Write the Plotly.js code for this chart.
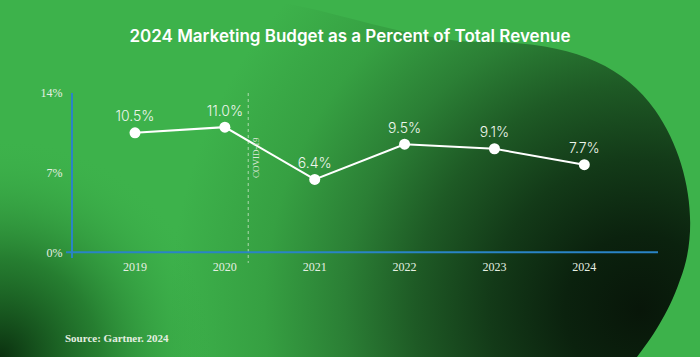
<!DOCTYPE html>
<html><head><meta charset="utf-8">
<script src="https://cdn.plot.ly/plotly-3.0.1.min.js"></script>
<style>
html,body{margin:0;padding:0;width:700px;height:357px;overflow:hidden;background:#3db24b;}
#bg{position:absolute;left:0;top:0;}
#chart{position:absolute;left:0;top:0;width:700px;height:357px;}
</style></head>
<body>
<svg id="bg" width="700" height="357" xmlns="http://www.w3.org/2000/svg">
  <defs>
    <radialGradient id="blobG" gradientUnits="userSpaceOnUse" cx="640" cy="310" r="470">
      <stop offset="0" stop-color="#081609"/>
      <stop offset="0.16" stop-color="#0b220e"/>
      <stop offset="0.32" stop-color="#133a18"/>
      <stop offset="0.48" stop-color="#1e5a25"/>
      <stop offset="0.63" stop-color="#2b7f35"/>
      <stop offset="0.8" stop-color="#36a042"/>
      <stop offset="1" stop-color="#3db24b"/>
    </radialGradient>
    <radialGradient id="cornerG" gradientUnits="userSpaceOnUse" cx="0" cy="357" r="220">
      <stop offset="0" stop-color="#082a0c" stop-opacity="0.95"/>
      <stop offset="0.45" stop-color="#0f4a16" stop-opacity="0.5"/>
      <stop offset="1" stop-color="#3db24b" stop-opacity="0"/>
    </radialGradient>
  </defs>
  <rect x="0" y="0" width="700" height="357" fill="#3db24b"/>
  <path d="M 260 0 C 320 5, 390 35, 470 42 C 560 40, 620 60, 655 110 C 690 160, 700 230, 680 280 C 668 315, 650 340, 637 357 L 0 357 L 0 0 Z" fill="url(#blobG)"/>
  <rect x="0" y="0" width="700" height="357" fill="url(#cornerG)"/>
</svg>
<div id="chart"></div>
<script>
const years = ['2019', '2020', '2021', '2022', '2023', '2024'];
const budgetPct = [10.5, 11.0, 6.4, 9.5, 9.1, 7.7];
const pointLabels = ['10.5%', '11.0%', '6.4%', '9.5%', '9.1%', '7.7%'];
const yTickVals = [0, 7, 14];
const yTickText = ['0%', '7%', '14%'];

const trace = {
  x: years.map((_, i) => i),
  y: budgetPct,
  type: 'scatter',
  mode: 'lines+markers+text',
  line: {color: '#ffffff', width: 2},
  marker: {color: '#ffffff', size: 11},
  text: pointLabels,
  textposition: 'top center',
  textfont: {family: 'Inter, "Open Sans", sans-serif', size: 14, color: '#eef5ec', weight: 300},
  cliponaxis: false,
  hoverinfo: 'skip'
};

const layout = {
  width: 700, height: 357,
  margin: {l: 73, r: 42, t: 93, b: 99},
  paper_bgcolor: 'rgba(0,0,0,0)',
  plot_bgcolor: 'rgba(0,0,0,0)',
  showlegend: false,
  title: {
    text: '2024 Marketing Budget as a Percent of Total Revenue',
    x: 0.5, xanchor: 'center', y: 0.9, yanchor: 'middle',
    font: {family: 'Inter, "Open Sans", sans-serif', size: 17, color: '#ffffff', weight: 600}
  },
  xaxis: {
    range: [-0.69, 5.82],
    tickvals: years.map((_, i) => i),
    ticktext: years,
    showgrid: false, zeroline: false, showline: false, ticks: '',
    tickfont: {family: '"Liberation Serif", serif', size: 12, color: '#e6efe2'},
    fixedrange: true
  },
  yaxis: {
    range: [-0.5, 14],
    tickvals: yTickVals,
    ticktext: yTickText,
    showgrid: false, zeroline: false,
    showline: true, linecolor: '#2a84c6', linewidth: 2,
    ticks: '', ticklabelstandoff: 6,
    tickfont: {family: '"Liberation Serif", serif', size: 12, color: '#e6efe2'},
    fixedrange: true
  },
  shapes: [
    {type: 'line', xref: 'paper', yref: 'y', x0: -0.012, x1: 1, y0: 0, y1: 0,
     line: {color: '#2a84c6', width: 2}, layer: 'above'},
    {type: 'line', xref: 'x', yref: 'paper', x0: 1.26, x1: 1.26, y0: 1, y1: -0.03,
     line: {color: 'rgba(225,240,220,0.7)', width: 1, dash: 'dot'}, layer: 'below'}
  ],
  annotations: [
    {xref: 'x', yref: 'y', x: 1.26, y: 8.3, text: 'COVID-19', textangle: -90,
     showarrow: false, xanchor: 'left', xshift: 1,
     font: {family: '"Liberation Serif", serif', size: 9, color: '#dde9d8'}},
    {xref: 'paper', yref: 'paper', x: -0.017, y: -0.485, xanchor: 'left', yanchor: 'middle',
     text: '<b>Source: Gartner. 2024</b>', showarrow: false,
     font: {family: '"Liberation Serif", serif', size: 11, color: '#e6efe2'}}
  ]
};

Plotly.newPlot('chart', [trace], layout, {displayModeBar: false, staticPlot: true});
</script>
</body></html>
